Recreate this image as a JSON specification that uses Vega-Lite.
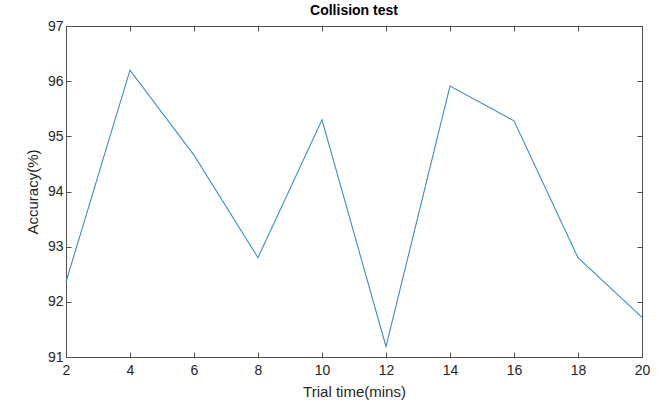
{
  "$schema": "https://vega.github.io/schema/vega-lite/v6.json",
  "autosize": "none",
  "width": 576,
  "height": 331,
  "padding": {"left": 66, "top": 26, "right": 23, "bottom": 44},
  "background": "white",
  "config": {
    "font": "Liberation Sans",
    "view": {"stroke": null},
    "axis": {
      "grid": false,
      "domainColor": "#4d4d4d",
      "tickColor": "#4d4d4d",
      "labelColor": "#262626",
      "titleColor": "#262626",
      "labelFont": "Liberation Sans",
      "titleFont": "Liberation Sans",
      "labelFontSize": 14,
      "titleFontSize": 15,
      "titleFontWeight": "normal",
      "tickSize": -5,
      "domainWidth": 1,
      "tickWidth": 1
    }
  },
  "title": {
    "text": "Collision test",
    "font": "Liberation Sans",
    "fontSize": 14,
    "fontWeight": "bold",
    "color": "#000000",
    "anchor": "middle",
    "offset": 1
  },
  "data": {
    "values": [
      {"time": 2, "accuracy": 92.36},
      {"time": 4, "accuracy": 96.2},
      {"time": 6, "accuracy": 94.66},
      {"time": 8, "accuracy": 92.8},
      {"time": 10, "accuracy": 95.3},
      {"time": 12, "accuracy": 91.19},
      {"time": 14, "accuracy": 95.91},
      {"time": 16, "accuracy": 95.28},
      {"time": 18, "accuracy": 92.8},
      {"time": 20, "accuracy": 91.72}
    ]
  },
  "layer": [
    {
      "mark": {"type": "line", "color": "#3d8dc6", "strokeWidth": 1.1},
      "encoding": {
        "x": {
          "field": "time", "type": "quantitative",
          "scale": {"domain": [2, 20], "nice": false, "zero": false},
          "axis": {"values": [2,4,6,8,10,12,14,16,18,20], "title": "Trial time(mins)", "labelPadding": 11, "titlePadding": 7, "labelFlush": false}
        },
        "y": {
          "field": "accuracy", "type": "quantitative",
          "scale": {"domain": [91, 97], "nice": false, "zero": false},
          "axis": {"values": [91,92,93,94,95,96,97], "title": "Accuracy(%)", "labelPadding": 8, "titlePadding": 7, "labelFlush": false}
        }
      }
    },
    {
      "mark": {"type": "line", "strokeOpacity": 0},
      "encoding": {
        "x": {
          "field": "time", "type": "quantitative",
          "axis": {"orient": "top", "values": [2,4,6,8,10,12,14,16,18,20], "labels": false, "title": null}
        },
        "y": {
          "field": "accuracy", "type": "quantitative",
          "axis": {"orient": "right", "values": [91,92,93,94,95,96,97], "labels": false, "title": null}
        }
      }
    }
  ],
  "resolve": {"axis": {"x": "independent", "y": "independent"}}
}
